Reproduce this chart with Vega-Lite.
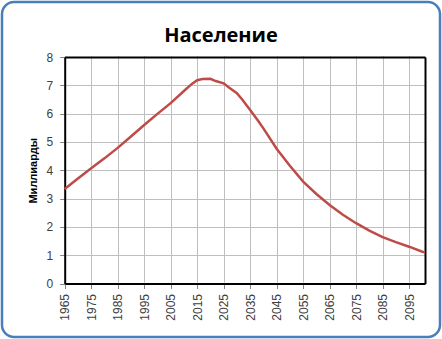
{
  "$schema": "https://vega.github.io/schema/vega-lite/v6.json",
  "width": 438,
  "height": 335,
  "autosize": {"type": "none"},
  "padding": {"left": 2, "top": 2, "right": 2, "bottom": 2},
  "background": "white",
  "title": {
    "text": "Население",
    "font": "Open Sans",
    "fontSize": 20,
    "fontWeight": "bold",
    "color": "black",
    "anchor": "middle",
    "baseline": "top",
    "offset": -44
  },
  "config": {
    "view": {"stroke": "#4A7EBB", "strokeWidth": 2.5, "cornerRadius": 12, "fill": "white"},
    "axis": {"labelFont": "Liberation Sans", "titleFont": "Liberation Sans"}
  },
  "data": {
    "values": [
      {"year": 1965, "pop": 3.34},
      {"year": 1970, "pop": 3.71},
      {"year": 1975, "pop": 4.07},
      {"year": 1980, "pop": 4.42},
      {"year": 1985, "pop": 4.79},
      {"year": 1990, "pop": 5.19},
      {"year": 1995, "pop": 5.6},
      {"year": 2000, "pop": 5.99},
      {"year": 2005, "pop": 6.37},
      {"year": 2010, "pop": 6.8},
      {"year": 2013, "pop": 7.05},
      {"year": 2015, "pop": 7.18},
      {"year": 2017, "pop": 7.22},
      {"year": 2020, "pop": 7.23},
      {"year": 2022, "pop": 7.15},
      {"year": 2025, "pop": 7.07},
      {"year": 2027, "pop": 6.92},
      {"year": 2030, "pop": 6.72},
      {"year": 2032, "pop": 6.5},
      {"year": 2035, "pop": 6.13},
      {"year": 2038, "pop": 5.75},
      {"year": 2040, "pop": 5.48},
      {"year": 2045, "pop": 4.76},
      {"year": 2050, "pop": 4.16},
      {"year": 2055, "pop": 3.6},
      {"year": 2060, "pop": 3.16},
      {"year": 2065, "pop": 2.77},
      {"year": 2070, "pop": 2.43},
      {"year": 2075, "pop": 2.13},
      {"year": 2080, "pop": 1.87},
      {"year": 2085, "pop": 1.64},
      {"year": 2090, "pop": 1.46},
      {"year": 2095, "pop": 1.3},
      {"year": 2100, "pop": 1.12},
      {"year": 2101, "pop": 1.1}
    ]
  },
  "layer": [
    {
      "mark": {"type": "line", "color": "#BE4B48", "strokeWidth": 2.5},
      "encoding": {
        "x": {
          "field": "year",
          "type": "quantitative",
          "scale": {"domain": [1965, 2101], "range": [62.7, 423], "nice": false, "zero": false},
          "axis": {
            "orient": "bottom",
            "offset": -53.5,
            "values": [1965, 1975, 1985, 1995, 2005, 2015, 2025, 2035, 2045, 2055, 2065, 2075, 2085, 2095],
            "format": "d",
            "labelAngle": 270,
            "labelFontSize": 12,
            "labelColor": "#404040",
            "labelPadding": 5,
            "title": null,
            "domainColor": "black",
            "domainWidth": 2,
            "tickColor": "#868686",
            "tickSize": 5,
            "grid": true,
            "gridColor": "#BFBFBF",
            "gridWidth": 1
          }
        },
        "y": {
          "field": "pop",
          "type": "quantitative",
          "scale": {"domain": [0, 8], "range": [281.5, 55], "nice": false},
          "axis": {
            "orient": "left",
            "offset": -62.7,
            "values": [0, 1, 2, 3, 4, 5, 6, 7, 8],
            "labelFontSize": 12,
            "labelColor": "#404040",
            "labelPadding": 7,
            "title": "Миллиарды",
            "titleFontSize": 11,
            "titleFontWeight": "bold",
            "titleColor": "black",
            "titlePadding": 8,
            "domainColor": "black",
            "domainWidth": 2,
            "tickColor": "#868686",
            "tickSize": 5,
            "grid": true,
            "gridColor": "#BFBFBF",
            "gridWidth": 1
          }
        }
      }
    },
    {
      "mark": {"type": "line", "strokeOpacity": 0},
      "encoding": {
        "x": {
          "field": "year",
          "type": "quantitative",
          "axis": {"orient": "top", "offset": -55, "labels": false, "ticks": false, "grid": false, "title": null, "domainColor": "black", "domainWidth": 2}
        },
        "y": {
          "field": "pop",
          "type": "quantitative",
          "axis": {"orient": "right", "offset": -15, "labels": false, "ticks": false, "grid": false, "title": null, "domainColor": "black", "domainWidth": 2}
        }
      }
    }
  ],
  "resolve": {"axis": {"x": "independent", "y": "independent"}}
}
